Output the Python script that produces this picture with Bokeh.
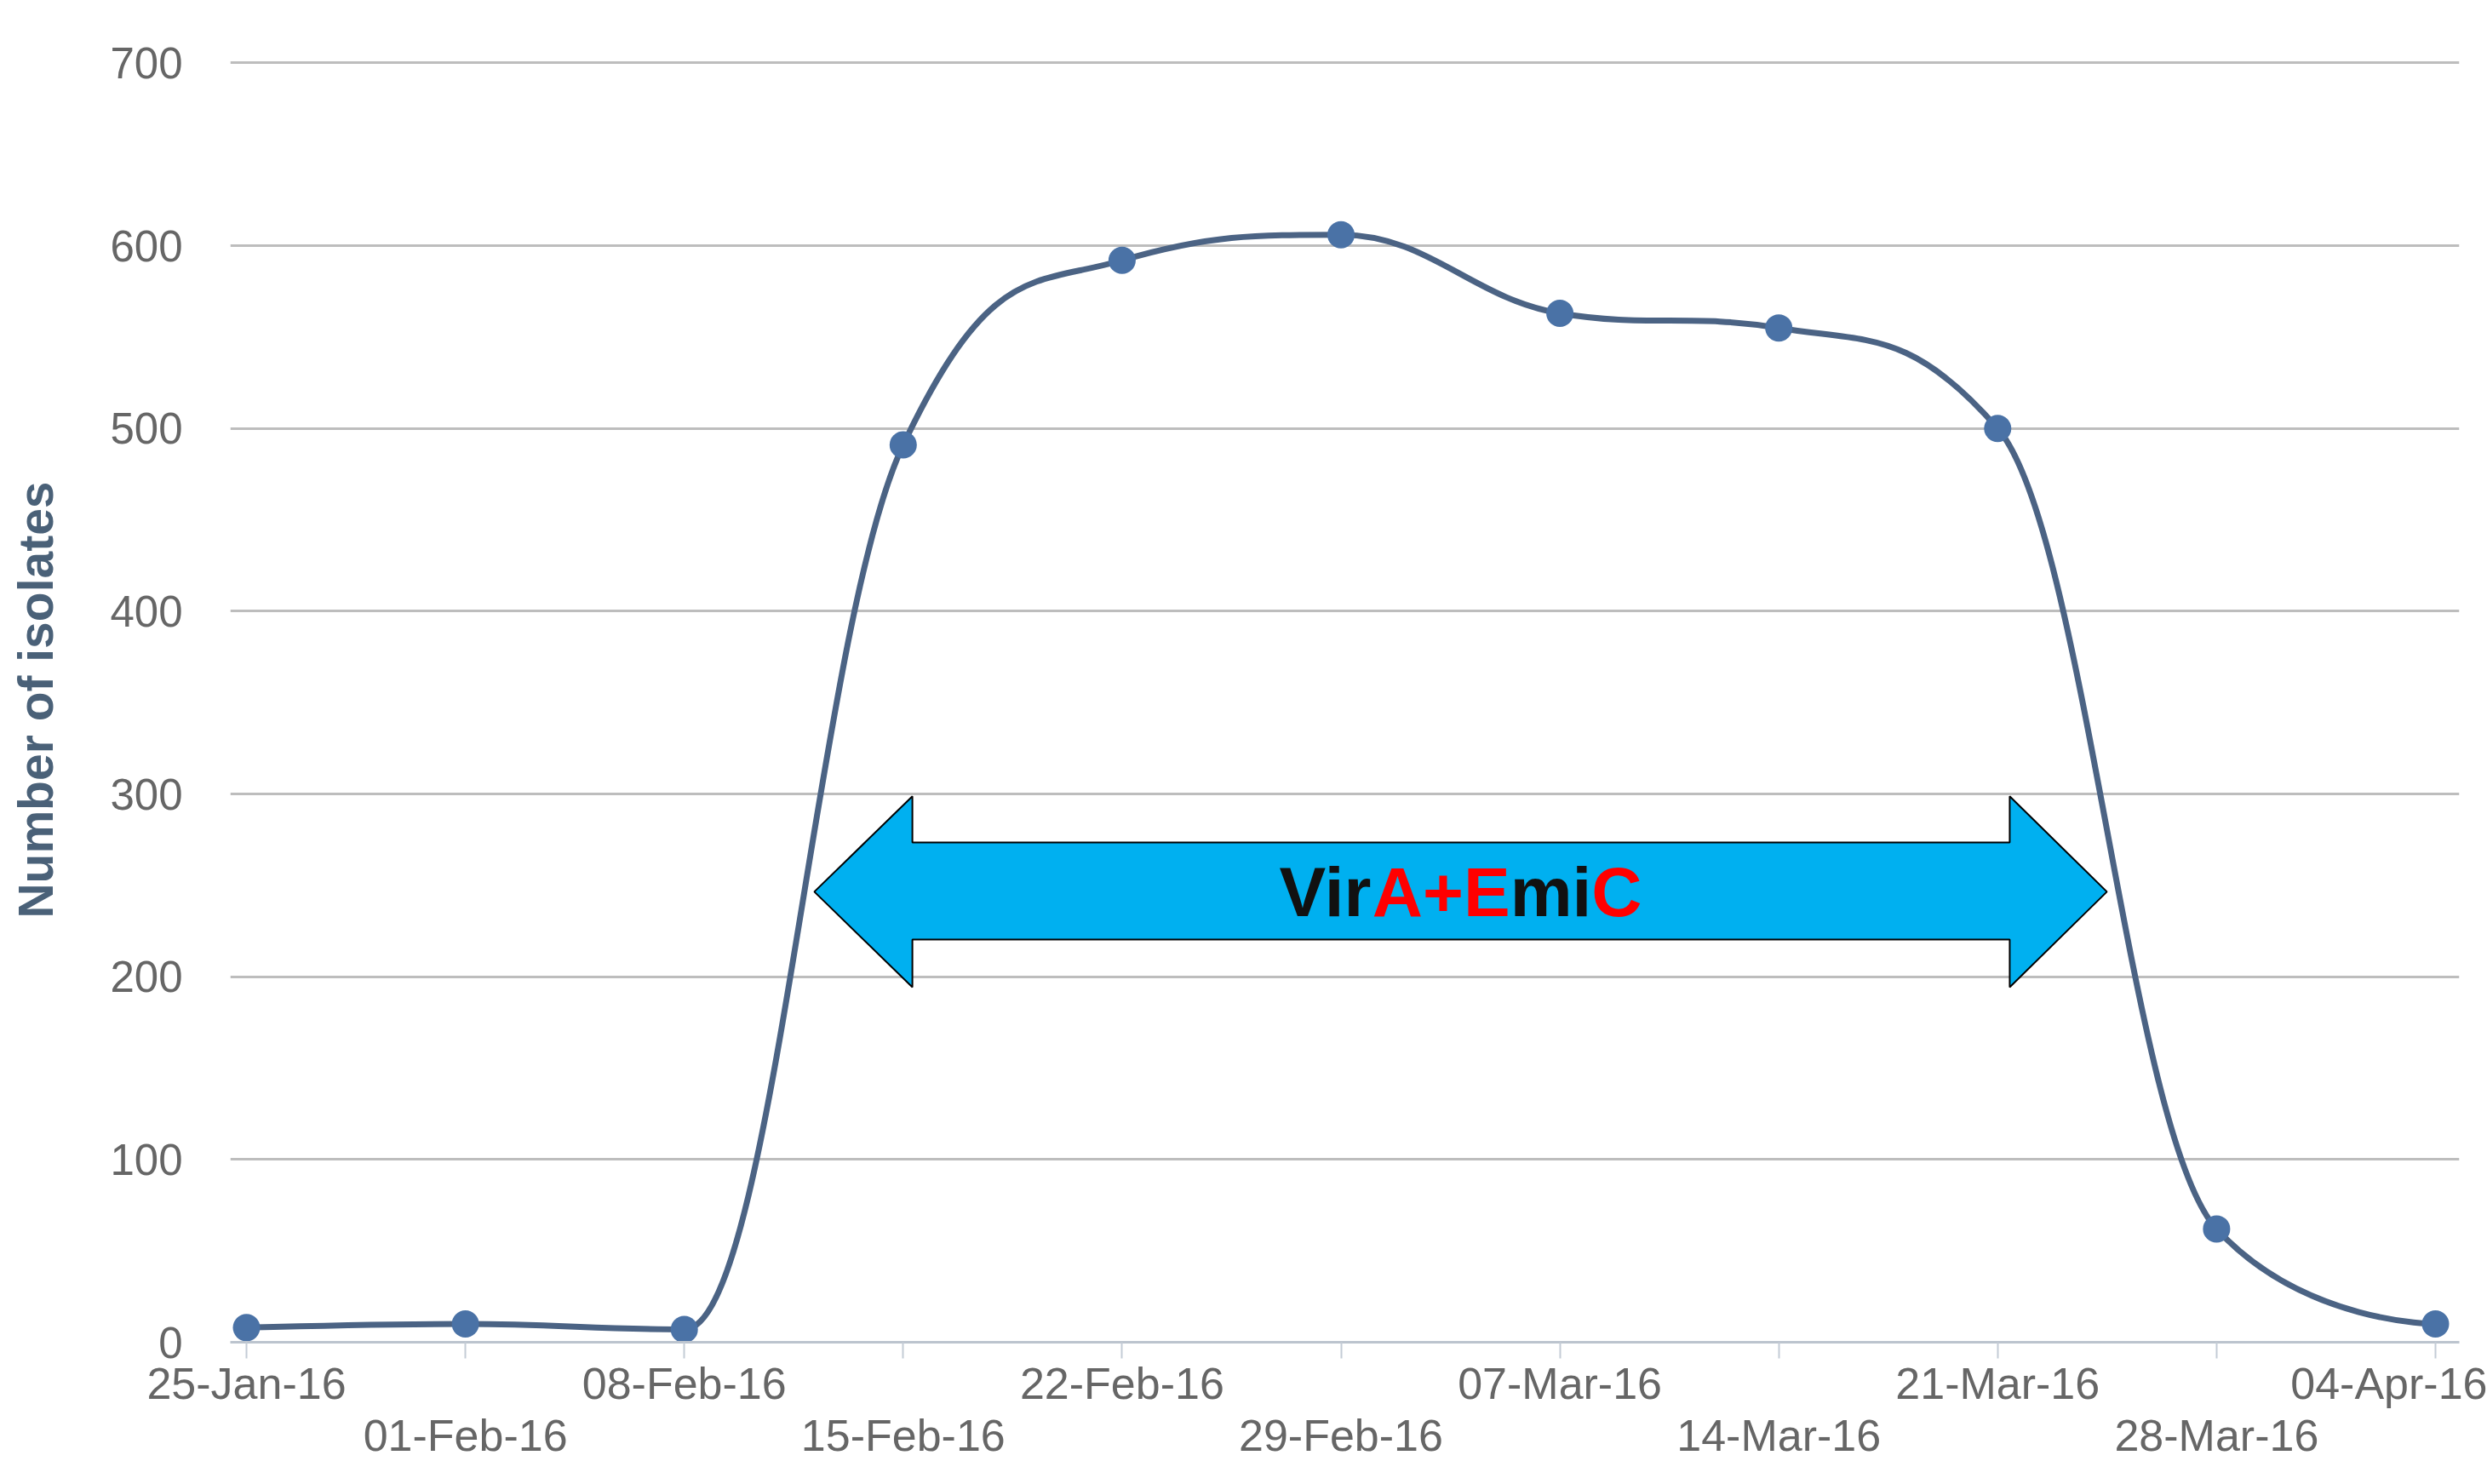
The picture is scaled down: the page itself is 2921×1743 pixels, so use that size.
from bokeh.plotting import figure
from bokeh.models import Range1d, LinearAxis, FixedTicker, ColumnDataSource
from bokeh.core.properties import value
from bokeh.embed import file_html
from bokeh.resources import INLINE

# ---- data ----
dates = ["25-Jan-16", "01-Feb-16", "08-Feb-16", "15-Feb-16", "22-Feb-16", "29-Feb-16",
         "07-Mar-16", "14-Mar-16", "21-Mar-16", "28-Mar-16", "04-Apr-16"]
isolates = [8, 10, 7, 491, 592, 606, 563, 555, 500, 62, 10]
y_ticks = [0, 100, 200, 300, 400, 500, 600, 700]
y_title = "Number of isolates"
label_parts = ["Vir", "A+E", "mi", "C"]
label_colors = ["#111111", "#ff0000", "#111111", "#ff0000"]
# annotation arrow (x in week index, y in isolates)
arrow_x = [2.594, 3.042, 8.055, 8.499]  # left tip, left head back, right head back, right tip
arrow_y = [194.3, 220.4, 246.5, 273.5, 298.7]  # head bottom, shaft bottom, mid, shaft top, head top

xs = list(range(len(dates)))

# ---- spline control points (Highcharts-style smoothing) ----
def spline_controls(x, y, smoothing=1.5):
    n = len(x)
    denom = smoothing + 1
    lc = [(x[i], y[i]) for i in range(n)]
    rc = [(x[i], y[i]) for i in range(n)]
    for i in range(1, n - 1):
        px, py = x[i], y[i]
        lx, ly = x[i - 1], y[i - 1]
        nx, ny = x[i + 1], y[i + 1]
        lcx = (smoothing * px + lx) / denom
        lcy = (smoothing * py + ly) / denom
        rcx = (smoothing * px + nx) / denom
        rcy = (smoothing * py + ny) / denom
        corr = ((rcy - lcy) * (rcx - px)) / (rcx - lcx) + py - rcy
        lcy += corr
        rcy += corr
        if lcy > ly and lcy > py:
            lcy = max(ly, py); rcy = 2 * py - lcy
        elif lcy < ly and lcy < py:
            lcy = min(ly, py); rcy = 2 * py - lcy
        if rcy > ny and rcy > py:
            rcy = max(ny, py); lcy = 2 * py - rcy
        elif rcy < ny and rcy < py:
            rcy = min(ny, py); lcy = 2 * py - rcy
        lc[i] = (lcx, lcy)
        rc[i] = (rcx, rcy)
    seg = dict(x0=[], y0=[], x1=[], y1=[], cx0=[], cy0=[], cx1=[], cy1=[])
    for i in range(1, n):
        seg["x0"].append(x[i - 1]); seg["y0"].append(y[i - 1])
        seg["x1"].append(x[i]); seg["y1"].append(y[i])
        seg["cx0"].append(rc[i - 1][0]); seg["cy0"].append(rc[i - 1][1])
        seg["cx1"].append(lc[i][0]); seg["cy1"].append(lc[i][1])
    return seg

W, H = 2921, 1743
p = figure(width=W, height=H, output_backend="svg", toolbar_location=None,
           x_axis_type=None, x_range=Range1d(-0.074, 10.109), y_range=Range1d(0, 703),
           min_border_left=270, min_border_right=33, min_border_top=67, min_border_bottom=167)
p.outline_line_color = None
p.background_fill_color = "white"
p.border_fill_color = "white"

# y axis
p.yaxis.ticker = FixedTicker(ticks=y_ticks)
p.yaxis.axis_line_color = None
p.yaxis.major_tick_line_color = None
p.yaxis.minor_tick_line_color = None
p.yaxis.major_label_text_font = "Liberation Sans"
p.yaxis.major_label_text_font_size = "51px"
p.yaxis.major_label_text_color = "#666666"
p.yaxis.major_label_standoff = 50
p.yaxis.axis_label = y_title
p.yaxis.axis_label_text_font = "Liberation Sans"
p.yaxis.axis_label_text_font_style = "bold"
p.yaxis.axis_label_text_font_size = "57px"
p.yaxis.axis_label_text_color = "#4a6178"
p.yaxis.axis_label_standoff = 52
p.ygrid.grid_line_color = "#bdbdbd"
p.ygrid.grid_line_width = 3
p.ygrid.ticker = FixedTicker(ticks=y_ticks)
p.xgrid.grid_line_color = None

# x axes (staggered labels)
even = {i: dates[i] for i in xs if i % 2 == 0}
even.update({i: "" for i in xs if i % 2 == 1})
odd = {i: dates[i] for i in xs if i % 2 == 1}

ax1 = LinearAxis(ticker=FixedTicker(ticks=xs), major_label_overrides=even)
ax1.axis_line_color = "#bcc4ce"
ax1.axis_line_width = 3
ax1.major_tick_line_color = "#c4ccd6"
ax1.major_tick_line_width = 2
ax1.major_tick_out = 19
ax1.major_tick_in = 0
ax1.minor_tick_line_color = None
ax1.major_label_standoff = 0
ax1.major_label_text_font = "Liberation Sans"
ax1.major_label_text_font_size = "52px"
ax1.major_label_text_color = "#666666"
p.add_layout(ax1, "below")

ax2 = LinearAxis(ticker=FixedTicker(ticks=[i for i in xs if i % 2 == 1]), major_label_overrides=odd)
ax2.axis_line_color = None
ax2.major_tick_line_color = None
ax2.minor_tick_line_color = None
ax2.major_tick_out = 0
ax2.major_tick_in = 0
ax2.major_label_standoff = 0
ax2.major_label_text_font = "Liberation Sans"
ax2.major_label_text_font_size = "52px"
ax2.major_label_text_color = "#666666"
p.add_layout(ax2, "below")

# series
seg = spline_controls(xs, isolates)
p.bezier(x0="x0", y0="y0", x1="x1", y1="y1", cx0="cx0", cy0="cy0", cx1="cx1", cy1="cy1",
         source=ColumnDataSource(seg), line_color="#4b6384", line_width=7)
p.scatter(xs, isolates, size=32, fill_color="#4a72a6", line_color=None)

# arrow annotation
lt, lb, rb, rt = arrow_x
hb, sb, mid, st, ht = arrow_y
ax_poly = [lt, lb, lb, rb, rb, rt, rb, rb, lb, lb]
ay_poly = [mid, ht, st, st, ht, mid, hb, sb, sb, hb]
p.patch(ax_poly, ay_poly, fill_color="#00b0f0", line_color="#000000", line_width=2)

# label inside arrow, coloured parts
fs = 82
adv = {"Vir": 1.334, "A+E": 1.973, "mi": 1.167, "C": 0.722}
total = sum(adv[t] for t in label_parts) * fs
off = -total / 2
cx = (lt + rt) / 2
for t, c in zip(label_parts, label_colors):
    p.text(x=[cx], y=[mid], text=[t], x_offset=off, text_align="left", text_baseline="middle",
           text_color=c, text_font=value("Liberation Sans"), text_font_style="bold",
           text_font_size=f"{fs}px")
    off += adv[t] * fs

open("out.html", "w").write(file_html(p, INLINE))
